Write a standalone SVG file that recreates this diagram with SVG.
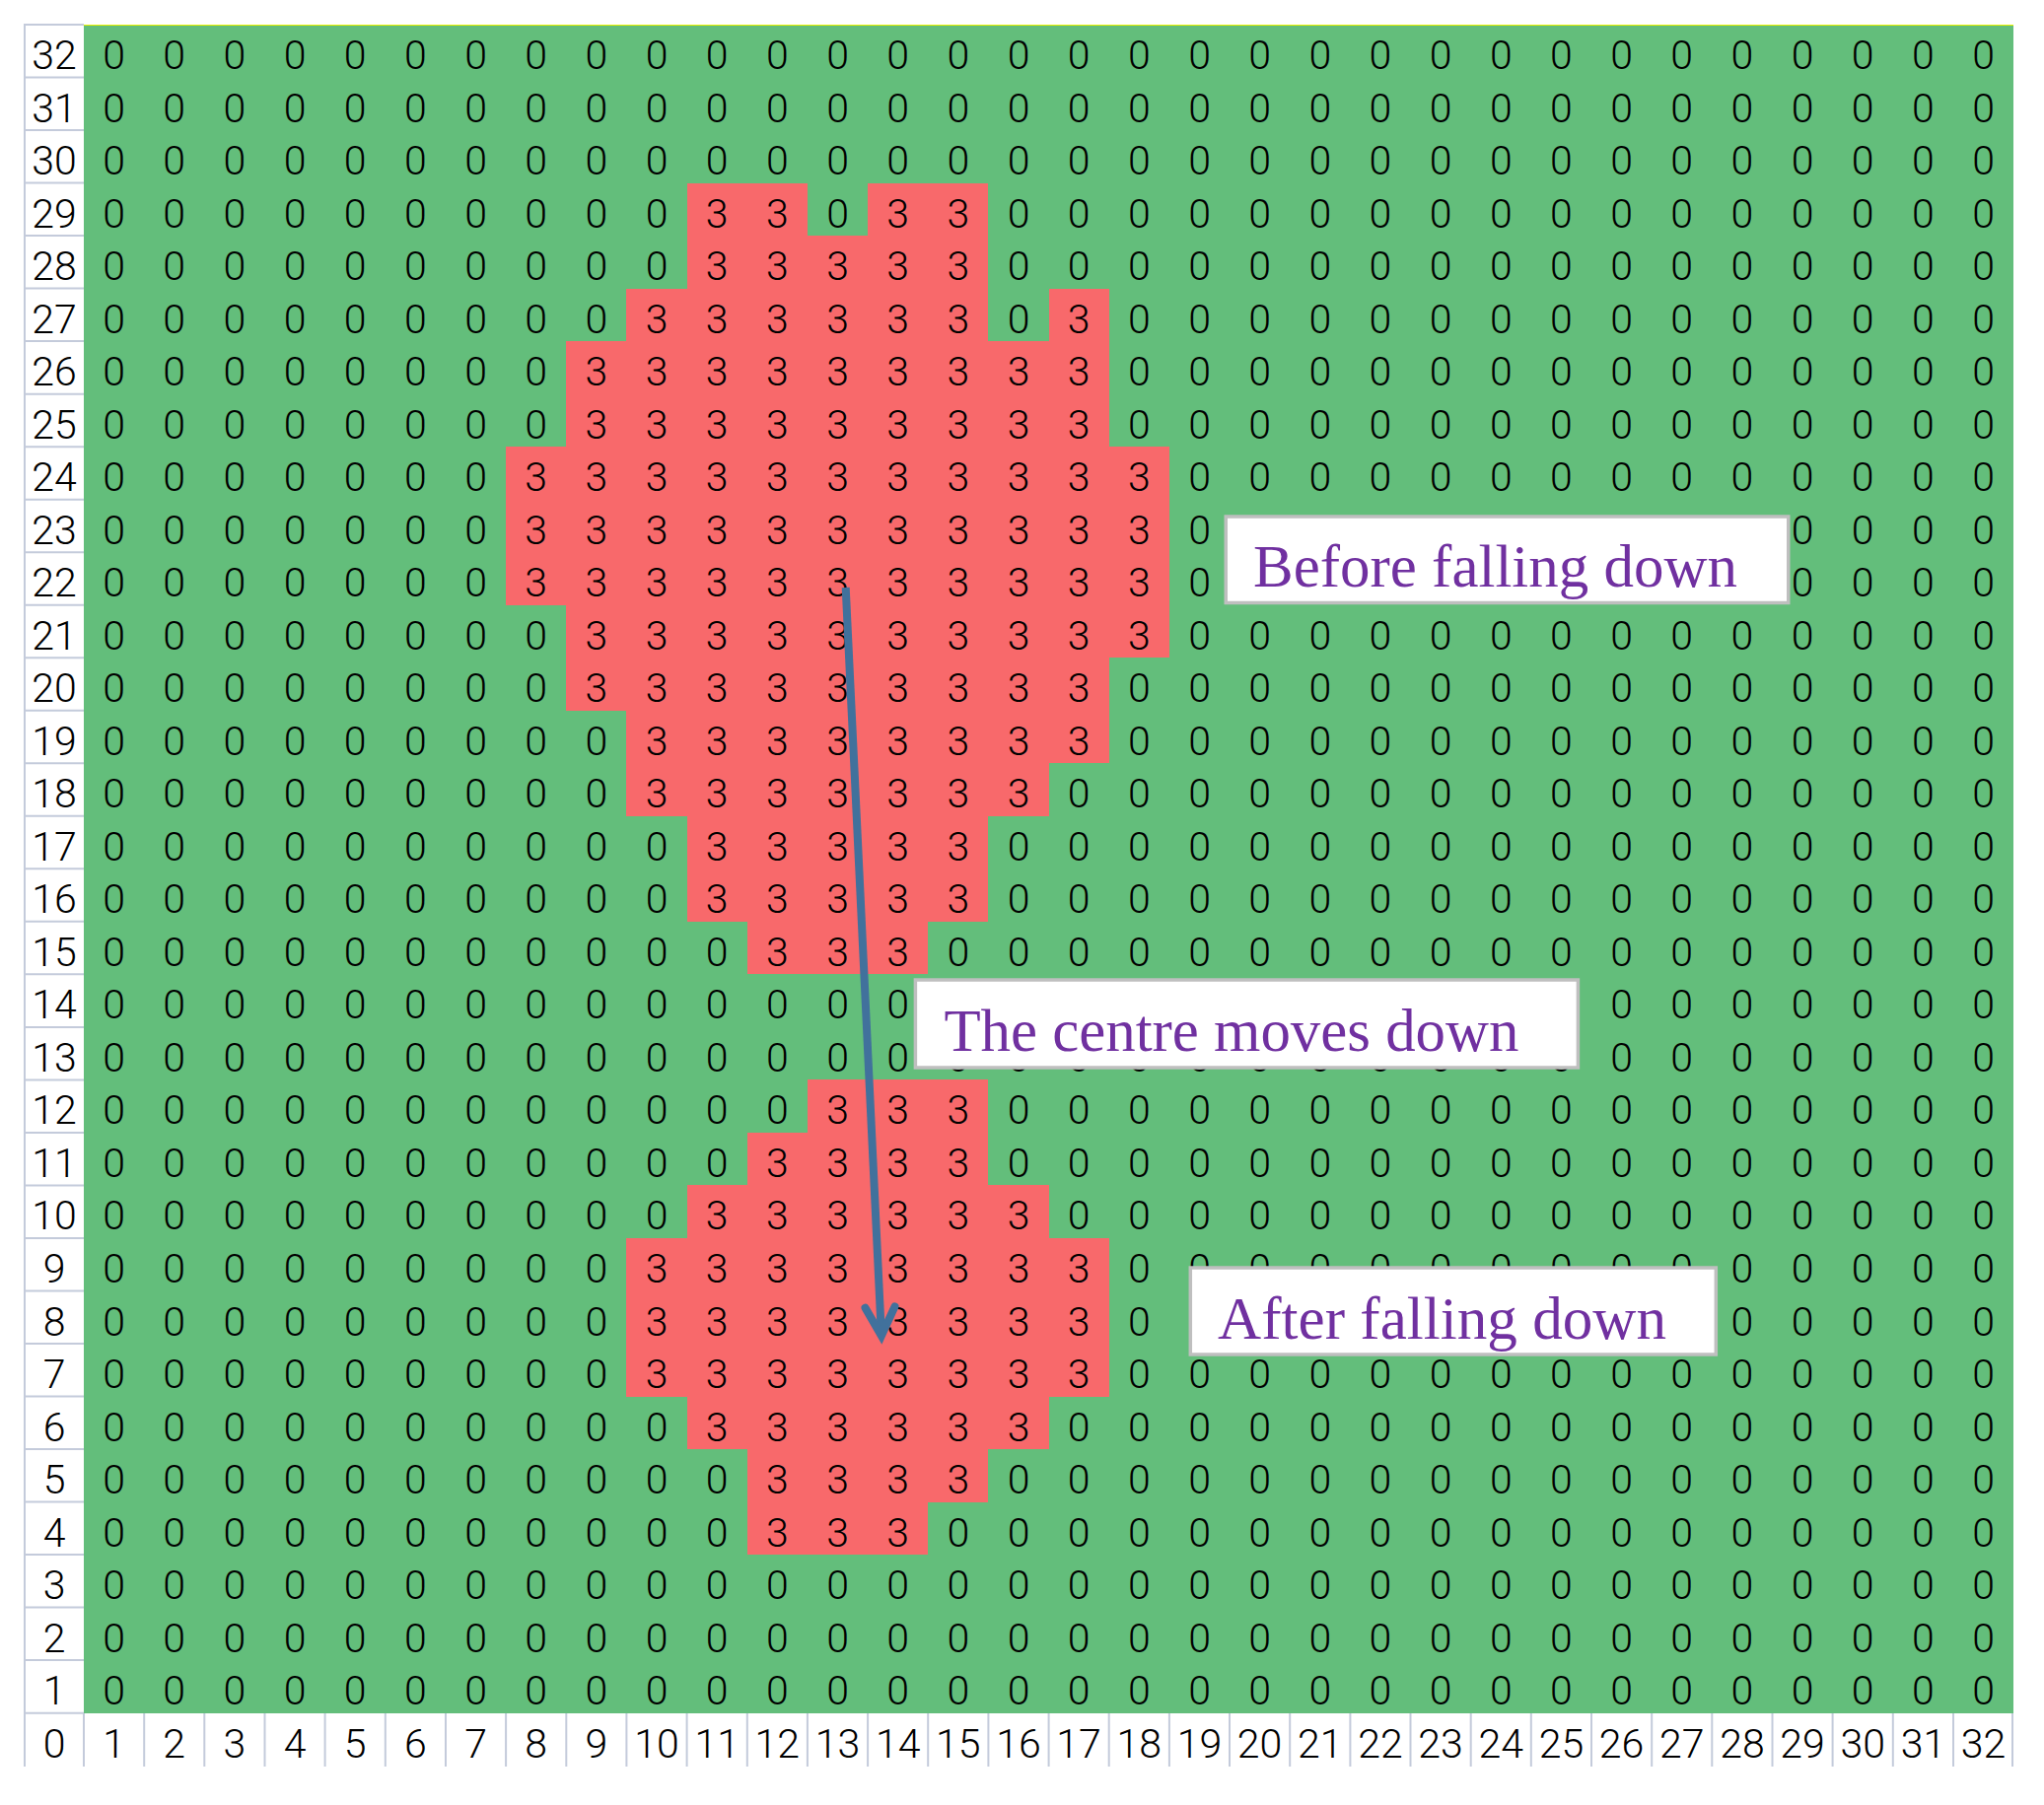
<svg xmlns="http://www.w3.org/2000/svg" width="2073" height="1831" viewBox="0 0 2073 1831">
<style>
.d text{font-family:Roboto,"Liberation Sans",Arial,sans-serif;font-weight:300;font-size:41px;text-anchor:middle;fill:#000}
.red{fill:#F8696B}
.box rect{fill:#fff;stroke:#BFBFBF;stroke-width:3.5}
.box text{font-family:"Liberation Serif","Times New Roman",serif;font-size:61px;fill:#7030A0}
</style>
<defs>
<marker id="ah" markerUnits="userSpaceOnUse" viewBox="-40 -25 50 50" markerWidth="50" markerHeight="50" refX="0" refY="0" orient="auto" overflow="visible"><path d="M-29,-15 L0,0 L-29,15" fill="none" stroke="#41719C" stroke-width="8" stroke-linecap="round" stroke-linejoin="miter"/></marker>
</defs>
<rect width="2073" height="1831" fill="#fff"/>
<g id="cells" shape-rendering="crispEdges">
<rect x="85" y="25" width="1957.12" height="1712.64" fill="#63BE7B"/>
<rect class="red" x="696.6" y="185.56" width="122.32" height="53.52"/>
<rect class="red" x="880.08" y="185.56" width="122.32" height="53.52"/>
<rect class="red" x="696.6" y="239.08" width="305.8" height="53.52"/>
<rect class="red" x="635.44" y="292.6" width="366.96" height="53.52"/>
<rect class="red" x="1063.56" y="292.6" width="61.16" height="53.52"/>
<rect class="red" x="574.28" y="346.12" width="550.44" height="107.04"/>
<rect class="red" x="513.12" y="453.16" width="672.76" height="160.56"/>
<rect class="red" x="574.28" y="613.72" width="611.6" height="53.52"/>
<rect class="red" x="574.28" y="667.24" width="550.44" height="53.52"/>
<rect class="red" x="635.44" y="720.76" width="489.28" height="53.52"/>
<rect class="red" x="635.44" y="774.28" width="428.12" height="53.52"/>
<rect class="red" x="696.6" y="827.8" width="305.8" height="107.04"/>
<rect class="red" x="757.76" y="934.84" width="183.48" height="53.52"/>
<rect class="red" x="818.92" y="1095.4" width="183.48" height="53.52"/>
<rect class="red" x="757.76" y="1148.92" width="244.64" height="53.52"/>
<rect class="red" x="696.6" y="1202.44" width="366.96" height="53.52"/>
<rect class="red" x="635.44" y="1255.96" width="489.28" height="160.56"/>
<rect class="red" x="696.6" y="1416.52" width="366.96" height="53.52"/>
<rect class="red" x="757.76" y="1470.04" width="244.64" height="53.52"/>
<rect class="red" x="757.76" y="1523.56" width="183.48" height="53.52"/>
</g>
<g id="gridlines" fill="none" stroke="#C4CBDB" stroke-width="2">
<path d="M25 24V1792M25 25H85M25 78.52H85M25 132.04H85M25 185.56H85M25 239.08H85M25 292.6H85M25 346.12H85M25 399.64H85M25 453.16H85M25 506.68H85M25 560.2H85M25 613.72H85M25 667.24H85M25 720.76H85M25 774.28H85M25 827.8H85M25 881.32H85M25 934.84H85M25 988.36H85M25 1041.88H85M25 1095.4H85M25 1148.92H85M25 1202.44H85M25 1255.96H85M25 1309.48H85M25 1363H85M25 1416.52H85M25 1470.04H85M25 1523.56H85M25 1577.08H85M25 1630.6H85M25 1684.12H85M25 1737.64H85"/>
<path d="M85 1738V1792M146.2 1738V1792M207.3 1738V1792M268.5 1738V1792M329.6 1738V1792M390.8 1738V1792M452 1738V1792M513.1 1738V1792M574.3 1738V1792M635.4 1738V1792M696.6 1738V1792M757.8 1738V1792M818.9 1738V1792M880.1 1738V1792M941.2 1738V1792M1002.4 1738V1792M1063.6 1738V1792M1124.7 1738V1792M1185.9 1738V1792M1247 1738V1792M1308.2 1738V1792M1369.4 1738V1792M1430.5 1738V1792M1491.7 1738V1792M1552.8 1738V1792M1614 1738V1792M1675.2 1738V1792M1736.3 1738V1792M1797.5 1738V1792M1858.6 1738V1792M1919.8 1738V1792M1981 1738V1792M2041 1738V1792"/>
<path d="M85 25.5H2042" stroke="#E8F000" stroke-width="1.2"/>
</g>
<g id="values" class="d">
<g transform="translate(0,70)"><text x="55">32</text><text x="115.6">0</text><text x="176.7">0</text><text x="237.9">0</text><text x="299.1">0</text><text x="360.2">0</text><text x="421.4">0</text><text x="482.5">0</text><text x="543.7">0</text><text x="604.9">0</text><text x="666">0</text><text x="727.2">0</text><text x="788.3">0</text><text x="849.5">0</text><text x="910.7">0</text><text x="971.8">0</text><text x="1033">0</text><text x="1094.1">0</text><text x="1155.3">0</text><text x="1216.5">0</text><text x="1277.6">0</text><text x="1338.8">0</text><text x="1399.9">0</text><text x="1461.1">0</text><text x="1522.3">0</text><text x="1583.4">0</text><text x="1644.6">0</text><text x="1705.7">0</text><text x="1766.9">0</text><text x="1828.1">0</text><text x="1889.2">0</text><text x="1950.4">0</text><text x="2011.5">0</text></g>
<g transform="translate(0,123.5)"><text x="55">31</text><text x="115.6">0</text><text x="176.7">0</text><text x="237.9">0</text><text x="299.1">0</text><text x="360.2">0</text><text x="421.4">0</text><text x="482.5">0</text><text x="543.7">0</text><text x="604.9">0</text><text x="666">0</text><text x="727.2">0</text><text x="788.3">0</text><text x="849.5">0</text><text x="910.7">0</text><text x="971.8">0</text><text x="1033">0</text><text x="1094.1">0</text><text x="1155.3">0</text><text x="1216.5">0</text><text x="1277.6">0</text><text x="1338.8">0</text><text x="1399.9">0</text><text x="1461.1">0</text><text x="1522.3">0</text><text x="1583.4">0</text><text x="1644.6">0</text><text x="1705.7">0</text><text x="1766.9">0</text><text x="1828.1">0</text><text x="1889.2">0</text><text x="1950.4">0</text><text x="2011.5">0</text></g>
<g transform="translate(0,177)"><text x="55">30</text><text x="115.6">0</text><text x="176.7">0</text><text x="237.9">0</text><text x="299.1">0</text><text x="360.2">0</text><text x="421.4">0</text><text x="482.5">0</text><text x="543.7">0</text><text x="604.9">0</text><text x="666">0</text><text x="727.2">0</text><text x="788.3">0</text><text x="849.5">0</text><text x="910.7">0</text><text x="971.8">0</text><text x="1033">0</text><text x="1094.1">0</text><text x="1155.3">0</text><text x="1216.5">0</text><text x="1277.6">0</text><text x="1338.8">0</text><text x="1399.9">0</text><text x="1461.1">0</text><text x="1522.3">0</text><text x="1583.4">0</text><text x="1644.6">0</text><text x="1705.7">0</text><text x="1766.9">0</text><text x="1828.1">0</text><text x="1889.2">0</text><text x="1950.4">0</text><text x="2011.5">0</text></g>
<g transform="translate(0,230.6)"><text x="55">29</text><text x="115.6">0</text><text x="176.7">0</text><text x="237.9">0</text><text x="299.1">0</text><text x="360.2">0</text><text x="421.4">0</text><text x="482.5">0</text><text x="543.7">0</text><text x="604.9">0</text><text x="666">0</text><text x="727.2">3</text><text x="788.3">3</text><text x="849.5">0</text><text x="910.7">3</text><text x="971.8">3</text><text x="1033">0</text><text x="1094.1">0</text><text x="1155.3">0</text><text x="1216.5">0</text><text x="1277.6">0</text><text x="1338.8">0</text><text x="1399.9">0</text><text x="1461.1">0</text><text x="1522.3">0</text><text x="1583.4">0</text><text x="1644.6">0</text><text x="1705.7">0</text><text x="1766.9">0</text><text x="1828.1">0</text><text x="1889.2">0</text><text x="1950.4">0</text><text x="2011.5">0</text></g>
<g transform="translate(0,284.1)"><text x="55">28</text><text x="115.6">0</text><text x="176.7">0</text><text x="237.9">0</text><text x="299.1">0</text><text x="360.2">0</text><text x="421.4">0</text><text x="482.5">0</text><text x="543.7">0</text><text x="604.9">0</text><text x="666">0</text><text x="727.2">3</text><text x="788.3">3</text><text x="849.5">3</text><text x="910.7">3</text><text x="971.8">3</text><text x="1033">0</text><text x="1094.1">0</text><text x="1155.3">0</text><text x="1216.5">0</text><text x="1277.6">0</text><text x="1338.8">0</text><text x="1399.9">0</text><text x="1461.1">0</text><text x="1522.3">0</text><text x="1583.4">0</text><text x="1644.6">0</text><text x="1705.7">0</text><text x="1766.9">0</text><text x="1828.1">0</text><text x="1889.2">0</text><text x="1950.4">0</text><text x="2011.5">0</text></g>
<g transform="translate(0,337.6)"><text x="55">27</text><text x="115.6">0</text><text x="176.7">0</text><text x="237.9">0</text><text x="299.1">0</text><text x="360.2">0</text><text x="421.4">0</text><text x="482.5">0</text><text x="543.7">0</text><text x="604.9">0</text><text x="666">3</text><text x="727.2">3</text><text x="788.3">3</text><text x="849.5">3</text><text x="910.7">3</text><text x="971.8">3</text><text x="1033">0</text><text x="1094.1">3</text><text x="1155.3">0</text><text x="1216.5">0</text><text x="1277.6">0</text><text x="1338.8">0</text><text x="1399.9">0</text><text x="1461.1">0</text><text x="1522.3">0</text><text x="1583.4">0</text><text x="1644.6">0</text><text x="1705.7">0</text><text x="1766.9">0</text><text x="1828.1">0</text><text x="1889.2">0</text><text x="1950.4">0</text><text x="2011.5">0</text></g>
<g transform="translate(0,391.1)"><text x="55">26</text><text x="115.6">0</text><text x="176.7">0</text><text x="237.9">0</text><text x="299.1">0</text><text x="360.2">0</text><text x="421.4">0</text><text x="482.5">0</text><text x="543.7">0</text><text x="604.9">3</text><text x="666">3</text><text x="727.2">3</text><text x="788.3">3</text><text x="849.5">3</text><text x="910.7">3</text><text x="971.8">3</text><text x="1033">3</text><text x="1094.1">3</text><text x="1155.3">0</text><text x="1216.5">0</text><text x="1277.6">0</text><text x="1338.8">0</text><text x="1399.9">0</text><text x="1461.1">0</text><text x="1522.3">0</text><text x="1583.4">0</text><text x="1644.6">0</text><text x="1705.7">0</text><text x="1766.9">0</text><text x="1828.1">0</text><text x="1889.2">0</text><text x="1950.4">0</text><text x="2011.5">0</text></g>
<g transform="translate(0,444.6)"><text x="55">25</text><text x="115.6">0</text><text x="176.7">0</text><text x="237.9">0</text><text x="299.1">0</text><text x="360.2">0</text><text x="421.4">0</text><text x="482.5">0</text><text x="543.7">0</text><text x="604.9">3</text><text x="666">3</text><text x="727.2">3</text><text x="788.3">3</text><text x="849.5">3</text><text x="910.7">3</text><text x="971.8">3</text><text x="1033">3</text><text x="1094.1">3</text><text x="1155.3">0</text><text x="1216.5">0</text><text x="1277.6">0</text><text x="1338.8">0</text><text x="1399.9">0</text><text x="1461.1">0</text><text x="1522.3">0</text><text x="1583.4">0</text><text x="1644.6">0</text><text x="1705.7">0</text><text x="1766.9">0</text><text x="1828.1">0</text><text x="1889.2">0</text><text x="1950.4">0</text><text x="2011.5">0</text></g>
<g transform="translate(0,498.2)"><text x="55">24</text><text x="115.6">0</text><text x="176.7">0</text><text x="237.9">0</text><text x="299.1">0</text><text x="360.2">0</text><text x="421.4">0</text><text x="482.5">0</text><text x="543.7">3</text><text x="604.9">3</text><text x="666">3</text><text x="727.2">3</text><text x="788.3">3</text><text x="849.5">3</text><text x="910.7">3</text><text x="971.8">3</text><text x="1033">3</text><text x="1094.1">3</text><text x="1155.3">3</text><text x="1216.5">0</text><text x="1277.6">0</text><text x="1338.8">0</text><text x="1399.9">0</text><text x="1461.1">0</text><text x="1522.3">0</text><text x="1583.4">0</text><text x="1644.6">0</text><text x="1705.7">0</text><text x="1766.9">0</text><text x="1828.1">0</text><text x="1889.2">0</text><text x="1950.4">0</text><text x="2011.5">0</text></g>
<g transform="translate(0,551.7)"><text x="55">23</text><text x="115.6">0</text><text x="176.7">0</text><text x="237.9">0</text><text x="299.1">0</text><text x="360.2">0</text><text x="421.4">0</text><text x="482.5">0</text><text x="543.7">3</text><text x="604.9">3</text><text x="666">3</text><text x="727.2">3</text><text x="788.3">3</text><text x="849.5">3</text><text x="910.7">3</text><text x="971.8">3</text><text x="1033">3</text><text x="1094.1">3</text><text x="1155.3">3</text><text x="1216.5">0</text><text x="1277.6">0</text><text x="1338.8">0</text><text x="1399.9">0</text><text x="1461.1">0</text><text x="1522.3">0</text><text x="1583.4">0</text><text x="1644.6">0</text><text x="1705.7">0</text><text x="1766.9">0</text><text x="1828.1">0</text><text x="1889.2">0</text><text x="1950.4">0</text><text x="2011.5">0</text></g>
<g transform="translate(0,605.2)"><text x="55">22</text><text x="115.6">0</text><text x="176.7">0</text><text x="237.9">0</text><text x="299.1">0</text><text x="360.2">0</text><text x="421.4">0</text><text x="482.5">0</text><text x="543.7">3</text><text x="604.9">3</text><text x="666">3</text><text x="727.2">3</text><text x="788.3">3</text><text x="849.5">3</text><text x="910.7">3</text><text x="971.8">3</text><text x="1033">3</text><text x="1094.1">3</text><text x="1155.3">3</text><text x="1216.5">0</text><text x="1277.6">0</text><text x="1338.8">0</text><text x="1399.9">0</text><text x="1461.1">0</text><text x="1522.3">0</text><text x="1583.4">0</text><text x="1644.6">0</text><text x="1705.7">0</text><text x="1766.9">0</text><text x="1828.1">0</text><text x="1889.2">0</text><text x="1950.4">0</text><text x="2011.5">0</text></g>
<g transform="translate(0,658.7)"><text x="55">21</text><text x="115.6">0</text><text x="176.7">0</text><text x="237.9">0</text><text x="299.1">0</text><text x="360.2">0</text><text x="421.4">0</text><text x="482.5">0</text><text x="543.7">0</text><text x="604.9">3</text><text x="666">3</text><text x="727.2">3</text><text x="788.3">3</text><text x="849.5">3</text><text x="910.7">3</text><text x="971.8">3</text><text x="1033">3</text><text x="1094.1">3</text><text x="1155.3">3</text><text x="1216.5">0</text><text x="1277.6">0</text><text x="1338.8">0</text><text x="1399.9">0</text><text x="1461.1">0</text><text x="1522.3">0</text><text x="1583.4">0</text><text x="1644.6">0</text><text x="1705.7">0</text><text x="1766.9">0</text><text x="1828.1">0</text><text x="1889.2">0</text><text x="1950.4">0</text><text x="2011.5">0</text></g>
<g transform="translate(0,712.2)"><text x="55">20</text><text x="115.6">0</text><text x="176.7">0</text><text x="237.9">0</text><text x="299.1">0</text><text x="360.2">0</text><text x="421.4">0</text><text x="482.5">0</text><text x="543.7">0</text><text x="604.9">3</text><text x="666">3</text><text x="727.2">3</text><text x="788.3">3</text><text x="849.5">3</text><text x="910.7">3</text><text x="971.8">3</text><text x="1033">3</text><text x="1094.1">3</text><text x="1155.3">0</text><text x="1216.5">0</text><text x="1277.6">0</text><text x="1338.8">0</text><text x="1399.9">0</text><text x="1461.1">0</text><text x="1522.3">0</text><text x="1583.4">0</text><text x="1644.6">0</text><text x="1705.7">0</text><text x="1766.9">0</text><text x="1828.1">0</text><text x="1889.2">0</text><text x="1950.4">0</text><text x="2011.5">0</text></g>
<g transform="translate(0,765.8)"><text x="55">19</text><text x="115.6">0</text><text x="176.7">0</text><text x="237.9">0</text><text x="299.1">0</text><text x="360.2">0</text><text x="421.4">0</text><text x="482.5">0</text><text x="543.7">0</text><text x="604.9">0</text><text x="666">3</text><text x="727.2">3</text><text x="788.3">3</text><text x="849.5">3</text><text x="910.7">3</text><text x="971.8">3</text><text x="1033">3</text><text x="1094.1">3</text><text x="1155.3">0</text><text x="1216.5">0</text><text x="1277.6">0</text><text x="1338.8">0</text><text x="1399.9">0</text><text x="1461.1">0</text><text x="1522.3">0</text><text x="1583.4">0</text><text x="1644.6">0</text><text x="1705.7">0</text><text x="1766.9">0</text><text x="1828.1">0</text><text x="1889.2">0</text><text x="1950.4">0</text><text x="2011.5">0</text></g>
<g transform="translate(0,819.3)"><text x="55">18</text><text x="115.6">0</text><text x="176.7">0</text><text x="237.9">0</text><text x="299.1">0</text><text x="360.2">0</text><text x="421.4">0</text><text x="482.5">0</text><text x="543.7">0</text><text x="604.9">0</text><text x="666">3</text><text x="727.2">3</text><text x="788.3">3</text><text x="849.5">3</text><text x="910.7">3</text><text x="971.8">3</text><text x="1033">3</text><text x="1094.1">0</text><text x="1155.3">0</text><text x="1216.5">0</text><text x="1277.6">0</text><text x="1338.8">0</text><text x="1399.9">0</text><text x="1461.1">0</text><text x="1522.3">0</text><text x="1583.4">0</text><text x="1644.6">0</text><text x="1705.7">0</text><text x="1766.9">0</text><text x="1828.1">0</text><text x="1889.2">0</text><text x="1950.4">0</text><text x="2011.5">0</text></g>
<g transform="translate(0,872.8)"><text x="55">17</text><text x="115.6">0</text><text x="176.7">0</text><text x="237.9">0</text><text x="299.1">0</text><text x="360.2">0</text><text x="421.4">0</text><text x="482.5">0</text><text x="543.7">0</text><text x="604.9">0</text><text x="666">0</text><text x="727.2">3</text><text x="788.3">3</text><text x="849.5">3</text><text x="910.7">3</text><text x="971.8">3</text><text x="1033">0</text><text x="1094.1">0</text><text x="1155.3">0</text><text x="1216.5">0</text><text x="1277.6">0</text><text x="1338.8">0</text><text x="1399.9">0</text><text x="1461.1">0</text><text x="1522.3">0</text><text x="1583.4">0</text><text x="1644.6">0</text><text x="1705.7">0</text><text x="1766.9">0</text><text x="1828.1">0</text><text x="1889.2">0</text><text x="1950.4">0</text><text x="2011.5">0</text></g>
<g transform="translate(0,926.3)"><text x="55">16</text><text x="115.6">0</text><text x="176.7">0</text><text x="237.9">0</text><text x="299.1">0</text><text x="360.2">0</text><text x="421.4">0</text><text x="482.5">0</text><text x="543.7">0</text><text x="604.9">0</text><text x="666">0</text><text x="727.2">3</text><text x="788.3">3</text><text x="849.5">3</text><text x="910.7">3</text><text x="971.8">3</text><text x="1033">0</text><text x="1094.1">0</text><text x="1155.3">0</text><text x="1216.5">0</text><text x="1277.6">0</text><text x="1338.8">0</text><text x="1399.9">0</text><text x="1461.1">0</text><text x="1522.3">0</text><text x="1583.4">0</text><text x="1644.6">0</text><text x="1705.7">0</text><text x="1766.9">0</text><text x="1828.1">0</text><text x="1889.2">0</text><text x="1950.4">0</text><text x="2011.5">0</text></g>
<g transform="translate(0,979.8)"><text x="55">15</text><text x="115.6">0</text><text x="176.7">0</text><text x="237.9">0</text><text x="299.1">0</text><text x="360.2">0</text><text x="421.4">0</text><text x="482.5">0</text><text x="543.7">0</text><text x="604.9">0</text><text x="666">0</text><text x="727.2">0</text><text x="788.3">3</text><text x="849.5">3</text><text x="910.7">3</text><text x="971.8">0</text><text x="1033">0</text><text x="1094.1">0</text><text x="1155.3">0</text><text x="1216.5">0</text><text x="1277.6">0</text><text x="1338.8">0</text><text x="1399.9">0</text><text x="1461.1">0</text><text x="1522.3">0</text><text x="1583.4">0</text><text x="1644.6">0</text><text x="1705.7">0</text><text x="1766.9">0</text><text x="1828.1">0</text><text x="1889.2">0</text><text x="1950.4">0</text><text x="2011.5">0</text></g>
<g transform="translate(0,1033.3)"><text x="55">14</text><text x="115.6">0</text><text x="176.7">0</text><text x="237.9">0</text><text x="299.1">0</text><text x="360.2">0</text><text x="421.4">0</text><text x="482.5">0</text><text x="543.7">0</text><text x="604.9">0</text><text x="666">0</text><text x="727.2">0</text><text x="788.3">0</text><text x="849.5">0</text><text x="910.7">0</text><text x="971.8">0</text><text x="1033">0</text><text x="1094.1">0</text><text x="1155.3">0</text><text x="1216.5">0</text><text x="1277.6">0</text><text x="1338.8">0</text><text x="1399.9">0</text><text x="1461.1">0</text><text x="1522.3">0</text><text x="1583.4">0</text><text x="1644.6">0</text><text x="1705.7">0</text><text x="1766.9">0</text><text x="1828.1">0</text><text x="1889.2">0</text><text x="1950.4">0</text><text x="2011.5">0</text></g>
<g transform="translate(0,1086.9)"><text x="55">13</text><text x="115.6">0</text><text x="176.7">0</text><text x="237.9">0</text><text x="299.1">0</text><text x="360.2">0</text><text x="421.4">0</text><text x="482.5">0</text><text x="543.7">0</text><text x="604.9">0</text><text x="666">0</text><text x="727.2">0</text><text x="788.3">0</text><text x="849.5">0</text><text x="910.7">0</text><text x="971.8">0</text><text x="1033">0</text><text x="1094.1">0</text><text x="1155.3">0</text><text x="1216.5">0</text><text x="1277.6">0</text><text x="1338.8">0</text><text x="1399.9">0</text><text x="1461.1">0</text><text x="1522.3">0</text><text x="1583.4">0</text><text x="1644.6">0</text><text x="1705.7">0</text><text x="1766.9">0</text><text x="1828.1">0</text><text x="1889.2">0</text><text x="1950.4">0</text><text x="2011.5">0</text></g>
<g transform="translate(0,1140.4)"><text x="55">12</text><text x="115.6">0</text><text x="176.7">0</text><text x="237.9">0</text><text x="299.1">0</text><text x="360.2">0</text><text x="421.4">0</text><text x="482.5">0</text><text x="543.7">0</text><text x="604.9">0</text><text x="666">0</text><text x="727.2">0</text><text x="788.3">0</text><text x="849.5">3</text><text x="910.7">3</text><text x="971.8">3</text><text x="1033">0</text><text x="1094.1">0</text><text x="1155.3">0</text><text x="1216.5">0</text><text x="1277.6">0</text><text x="1338.8">0</text><text x="1399.9">0</text><text x="1461.1">0</text><text x="1522.3">0</text><text x="1583.4">0</text><text x="1644.6">0</text><text x="1705.7">0</text><text x="1766.9">0</text><text x="1828.1">0</text><text x="1889.2">0</text><text x="1950.4">0</text><text x="2011.5">0</text></g>
<g transform="translate(0,1193.9)"><text x="55">11</text><text x="115.6">0</text><text x="176.7">0</text><text x="237.9">0</text><text x="299.1">0</text><text x="360.2">0</text><text x="421.4">0</text><text x="482.5">0</text><text x="543.7">0</text><text x="604.9">0</text><text x="666">0</text><text x="727.2">0</text><text x="788.3">3</text><text x="849.5">3</text><text x="910.7">3</text><text x="971.8">3</text><text x="1033">0</text><text x="1094.1">0</text><text x="1155.3">0</text><text x="1216.5">0</text><text x="1277.6">0</text><text x="1338.8">0</text><text x="1399.9">0</text><text x="1461.1">0</text><text x="1522.3">0</text><text x="1583.4">0</text><text x="1644.6">0</text><text x="1705.7">0</text><text x="1766.9">0</text><text x="1828.1">0</text><text x="1889.2">0</text><text x="1950.4">0</text><text x="2011.5">0</text></g>
<g transform="translate(0,1247.4)"><text x="55">10</text><text x="115.6">0</text><text x="176.7">0</text><text x="237.9">0</text><text x="299.1">0</text><text x="360.2">0</text><text x="421.4">0</text><text x="482.5">0</text><text x="543.7">0</text><text x="604.9">0</text><text x="666">0</text><text x="727.2">3</text><text x="788.3">3</text><text x="849.5">3</text><text x="910.7">3</text><text x="971.8">3</text><text x="1033">3</text><text x="1094.1">0</text><text x="1155.3">0</text><text x="1216.5">0</text><text x="1277.6">0</text><text x="1338.8">0</text><text x="1399.9">0</text><text x="1461.1">0</text><text x="1522.3">0</text><text x="1583.4">0</text><text x="1644.6">0</text><text x="1705.7">0</text><text x="1766.9">0</text><text x="1828.1">0</text><text x="1889.2">0</text><text x="1950.4">0</text><text x="2011.5">0</text></g>
<g transform="translate(0,1300.9)"><text x="55">9</text><text x="115.6">0</text><text x="176.7">0</text><text x="237.9">0</text><text x="299.1">0</text><text x="360.2">0</text><text x="421.4">0</text><text x="482.5">0</text><text x="543.7">0</text><text x="604.9">0</text><text x="666">3</text><text x="727.2">3</text><text x="788.3">3</text><text x="849.5">3</text><text x="910.7">3</text><text x="971.8">3</text><text x="1033">3</text><text x="1094.1">3</text><text x="1155.3">0</text><text x="1216.5">0</text><text x="1277.6">0</text><text x="1338.8">0</text><text x="1399.9">0</text><text x="1461.1">0</text><text x="1522.3">0</text><text x="1583.4">0</text><text x="1644.6">0</text><text x="1705.7">0</text><text x="1766.9">0</text><text x="1828.1">0</text><text x="1889.2">0</text><text x="1950.4">0</text><text x="2011.5">0</text></g>
<g transform="translate(0,1354.5)"><text x="55">8</text><text x="115.6">0</text><text x="176.7">0</text><text x="237.9">0</text><text x="299.1">0</text><text x="360.2">0</text><text x="421.4">0</text><text x="482.5">0</text><text x="543.7">0</text><text x="604.9">0</text><text x="666">3</text><text x="727.2">3</text><text x="788.3">3</text><text x="849.5">3</text><text x="910.7">3</text><text x="971.8">3</text><text x="1033">3</text><text x="1094.1">3</text><text x="1155.3">0</text><text x="1216.5">0</text><text x="1277.6">0</text><text x="1338.8">0</text><text x="1399.9">0</text><text x="1461.1">0</text><text x="1522.3">0</text><text x="1583.4">0</text><text x="1644.6">0</text><text x="1705.7">0</text><text x="1766.9">0</text><text x="1828.1">0</text><text x="1889.2">0</text><text x="1950.4">0</text><text x="2011.5">0</text></g>
<g transform="translate(0,1408)"><text x="55">7</text><text x="115.6">0</text><text x="176.7">0</text><text x="237.9">0</text><text x="299.1">0</text><text x="360.2">0</text><text x="421.4">0</text><text x="482.5">0</text><text x="543.7">0</text><text x="604.9">0</text><text x="666">3</text><text x="727.2">3</text><text x="788.3">3</text><text x="849.5">3</text><text x="910.7">3</text><text x="971.8">3</text><text x="1033">3</text><text x="1094.1">3</text><text x="1155.3">0</text><text x="1216.5">0</text><text x="1277.6">0</text><text x="1338.8">0</text><text x="1399.9">0</text><text x="1461.1">0</text><text x="1522.3">0</text><text x="1583.4">0</text><text x="1644.6">0</text><text x="1705.7">0</text><text x="1766.9">0</text><text x="1828.1">0</text><text x="1889.2">0</text><text x="1950.4">0</text><text x="2011.5">0</text></g>
<g transform="translate(0,1461.5)"><text x="55">6</text><text x="115.6">0</text><text x="176.7">0</text><text x="237.9">0</text><text x="299.1">0</text><text x="360.2">0</text><text x="421.4">0</text><text x="482.5">0</text><text x="543.7">0</text><text x="604.9">0</text><text x="666">0</text><text x="727.2">3</text><text x="788.3">3</text><text x="849.5">3</text><text x="910.7">3</text><text x="971.8">3</text><text x="1033">3</text><text x="1094.1">0</text><text x="1155.3">0</text><text x="1216.5">0</text><text x="1277.6">0</text><text x="1338.8">0</text><text x="1399.9">0</text><text x="1461.1">0</text><text x="1522.3">0</text><text x="1583.4">0</text><text x="1644.6">0</text><text x="1705.7">0</text><text x="1766.9">0</text><text x="1828.1">0</text><text x="1889.2">0</text><text x="1950.4">0</text><text x="2011.5">0</text></g>
<g transform="translate(0,1515)"><text x="55">5</text><text x="115.6">0</text><text x="176.7">0</text><text x="237.9">0</text><text x="299.1">0</text><text x="360.2">0</text><text x="421.4">0</text><text x="482.5">0</text><text x="543.7">0</text><text x="604.9">0</text><text x="666">0</text><text x="727.2">0</text><text x="788.3">3</text><text x="849.5">3</text><text x="910.7">3</text><text x="971.8">3</text><text x="1033">0</text><text x="1094.1">0</text><text x="1155.3">0</text><text x="1216.5">0</text><text x="1277.6">0</text><text x="1338.8">0</text><text x="1399.9">0</text><text x="1461.1">0</text><text x="1522.3">0</text><text x="1583.4">0</text><text x="1644.6">0</text><text x="1705.7">0</text><text x="1766.9">0</text><text x="1828.1">0</text><text x="1889.2">0</text><text x="1950.4">0</text><text x="2011.5">0</text></g>
<g transform="translate(0,1568.5)"><text x="55">4</text><text x="115.6">0</text><text x="176.7">0</text><text x="237.9">0</text><text x="299.1">0</text><text x="360.2">0</text><text x="421.4">0</text><text x="482.5">0</text><text x="543.7">0</text><text x="604.9">0</text><text x="666">0</text><text x="727.2">0</text><text x="788.3">3</text><text x="849.5">3</text><text x="910.7">3</text><text x="971.8">0</text><text x="1033">0</text><text x="1094.1">0</text><text x="1155.3">0</text><text x="1216.5">0</text><text x="1277.6">0</text><text x="1338.8">0</text><text x="1399.9">0</text><text x="1461.1">0</text><text x="1522.3">0</text><text x="1583.4">0</text><text x="1644.6">0</text><text x="1705.7">0</text><text x="1766.9">0</text><text x="1828.1">0</text><text x="1889.2">0</text><text x="1950.4">0</text><text x="2011.5">0</text></g>
<g transform="translate(0,1622.1)"><text x="55">3</text><text x="115.6">0</text><text x="176.7">0</text><text x="237.9">0</text><text x="299.1">0</text><text x="360.2">0</text><text x="421.4">0</text><text x="482.5">0</text><text x="543.7">0</text><text x="604.9">0</text><text x="666">0</text><text x="727.2">0</text><text x="788.3">0</text><text x="849.5">0</text><text x="910.7">0</text><text x="971.8">0</text><text x="1033">0</text><text x="1094.1">0</text><text x="1155.3">0</text><text x="1216.5">0</text><text x="1277.6">0</text><text x="1338.8">0</text><text x="1399.9">0</text><text x="1461.1">0</text><text x="1522.3">0</text><text x="1583.4">0</text><text x="1644.6">0</text><text x="1705.7">0</text><text x="1766.9">0</text><text x="1828.1">0</text><text x="1889.2">0</text><text x="1950.4">0</text><text x="2011.5">0</text></g>
<g transform="translate(0,1675.6)"><text x="55">2</text><text x="115.6">0</text><text x="176.7">0</text><text x="237.9">0</text><text x="299.1">0</text><text x="360.2">0</text><text x="421.4">0</text><text x="482.5">0</text><text x="543.7">0</text><text x="604.9">0</text><text x="666">0</text><text x="727.2">0</text><text x="788.3">0</text><text x="849.5">0</text><text x="910.7">0</text><text x="971.8">0</text><text x="1033">0</text><text x="1094.1">0</text><text x="1155.3">0</text><text x="1216.5">0</text><text x="1277.6">0</text><text x="1338.8">0</text><text x="1399.9">0</text><text x="1461.1">0</text><text x="1522.3">0</text><text x="1583.4">0</text><text x="1644.6">0</text><text x="1705.7">0</text><text x="1766.9">0</text><text x="1828.1">0</text><text x="1889.2">0</text><text x="1950.4">0</text><text x="2011.5">0</text></g>
<g transform="translate(0,1729.1)"><text x="55">1</text><text x="115.6">0</text><text x="176.7">0</text><text x="237.9">0</text><text x="299.1">0</text><text x="360.2">0</text><text x="421.4">0</text><text x="482.5">0</text><text x="543.7">0</text><text x="604.9">0</text><text x="666">0</text><text x="727.2">0</text><text x="788.3">0</text><text x="849.5">0</text><text x="910.7">0</text><text x="971.8">0</text><text x="1033">0</text><text x="1094.1">0</text><text x="1155.3">0</text><text x="1216.5">0</text><text x="1277.6">0</text><text x="1338.8">0</text><text x="1399.9">0</text><text x="1461.1">0</text><text x="1522.3">0</text><text x="1583.4">0</text><text x="1644.6">0</text><text x="1705.7">0</text><text x="1766.9">0</text><text x="1828.1">0</text><text x="1889.2">0</text><text x="1950.4">0</text><text x="2011.5">0</text></g>
<g transform="translate(0,1782.6)"><text x="55">0</text><text x="115.6">1</text><text x="176.7">2</text><text x="237.9">3</text><text x="299.1">4</text><text x="360.2">5</text><text x="421.4">6</text><text x="482.5">7</text><text x="543.7">8</text><text x="604.9">9</text><text x="666">10</text><text x="727.2">11</text><text x="788.3">12</text><text x="849.5">13</text><text x="910.7">14</text><text x="971.8">15</text><text x="1033">16</text><text x="1094.1">17</text><text x="1155.3">18</text><text x="1216.5">19</text><text x="1277.6">20</text><text x="1338.8">21</text><text x="1399.9">22</text><text x="1461.1">23</text><text x="1522.3">24</text><text x="1583.4">25</text><text x="1644.6">26</text><text x="1705.7">27</text><text x="1766.9">28</text><text x="1828.1">29</text><text x="1889.2">30</text><text x="1950.4">31</text><text x="2011.5">32</text></g>
</g>
<g id="connectors">
<line x1="857.7" y1="596" x2="893.9" y2="1355" stroke="#41719C" stroke-width="8" marker-end="url(#ah)"/>
</g>
<g id="label-before" class="box">
<rect x="1243.25" y="524" width="570.5" height="87.5"/>
<text x="1271" y="595" textLength="491" lengthAdjust="spacingAndGlyphs">Before falling down</text>
</g>
<g id="label-centre" class="box">
<rect x="928.4" y="994" width="672" height="89"/>
<text x="957.4" y="1065.7" textLength="583" lengthAdjust="spacingAndGlyphs">The centre moves down</text>
</g>
<g id="label-after" class="box">
<rect x="1207.3" y="1286" width="533" height="88"/>
<text x="1235" y="1358.3" textLength="455" lengthAdjust="spacingAndGlyphs">After falling down</text>
</g>
</svg>
